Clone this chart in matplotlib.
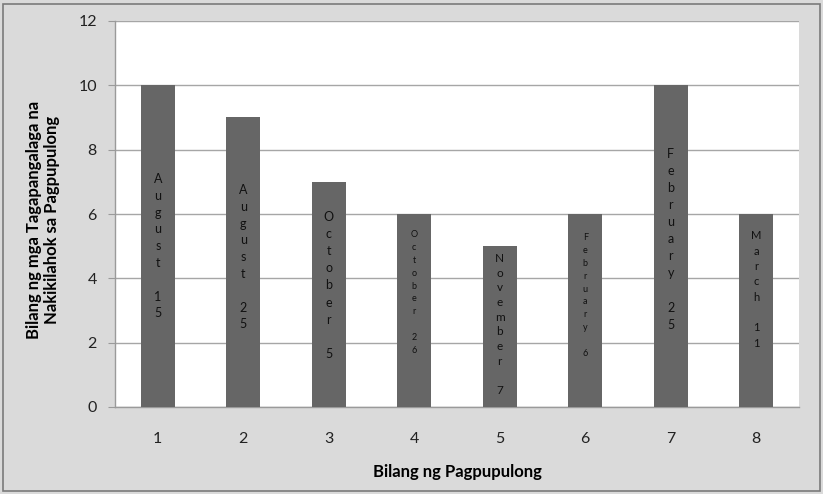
import matplotlib
matplotlib.use("Agg")
import matplotlib.pyplot as plt
from matplotlib.patches import Rectangle

# -----------------------------
# Data
# -----------------------------
meetings = [1, 2, 3, 4, 5, 6, 7, 8]
participants = [10, 9, 7, 6, 5, 6, 10, 6]
dates = ["August 15", "August 25", "October 5", "October 26",
         "November 7", "February 6", "February 25", "March 11"]

# label styling per bar (font size in pt, line step in px, vertical nudge in px)
label_size = [9, 9, 9, 6.5, 8.5, 6.5, 9, 8]
label_step = [17, 17, 17.5, 13, 15.3, 13, 17.4, 15.1]
label_dy = [0, 5, 9, 18, 2, 15, 7, 21]

font = "Lato"
bg = "#dadada"

fig = plt.figure(figsize=(8.23, 4.94), dpi=100, facecolor=bg)
ax = fig.add_axes([115 / 823, 1 - 407 / 494, 684 / 823, 386 / 494])
ax.set_facecolor("white")

ax.bar(meetings, participants, width=0.4, color="#666666", zorder=3)

ax.set_xlim(0.5, 8.5)
ax.set_ylim(0, 12)
ax.set_yticks(range(0, 13, 2))
ax.set_xticks(meetings)
ax.grid(axis="y", color="#a6a6a6", linewidth=1.0, zorder=0)

for side in ["top", "right"]:
    ax.spines[side].set_visible(False)
for side in ["left", "bottom"]:
    ax.spines[side].set_color("#9a9a9a")
    ax.spines[side].set_linewidth(1.0)

ax.tick_params(axis="y", length=5, color="#9a9a9a", pad=8,
               labelsize=11.5, labelcolor="#222222")
ax.tick_params(axis="x", length=0, pad=18, labelsize=11.5, labelcolor="#222222")
for t in ax.get_xticklabels() + ax.get_yticklabels():
    t.set_fontfamily(font)

# stacked vertical labels inside bars
px_per_unit = 386 / 12
for i, (x, v, d) in enumerate(zip(meetings, participants, dates)):
    text = "\n".join(list(d.replace(" ", "  ")))
    text = text.replace("\n \n \n", "\n\n")
    fs_px = label_size[i] * 100 / 72
    ls = label_step[i] / (fs_px * 0.92)
    y = v / 2 + label_dy[i] / px_per_unit
    ax.text(x, y, text, ha="center", va="center", fontsize=label_size[i],
            linespacing=ls, family=font, color="#111111", zorder=4)

ax.set_xlabel("Bilang ng Pagpupulong", fontsize=12, fontweight="bold",
              family=font, labelpad=13)
fig.text(43 / 823, 1 - 220 / 494,
         "Bilang ng mga Tagapangalaga na\nNakikilahok sa Pagpupulong",
         rotation=90, ha="center", va="center", fontsize=12,
         fontweight="bold", family=font, linespacing=1.1)

# outer border
fig.patches.append(Rectangle((3 / 823, 3 / 494), 817 / 823, 487 / 494,
                             transform=fig.transFigure, fill=False,
                             edgecolor="#7a7a7a", linewidth=1.2))

fig.savefig("out.png", dpi=100, facecolor=bg)
